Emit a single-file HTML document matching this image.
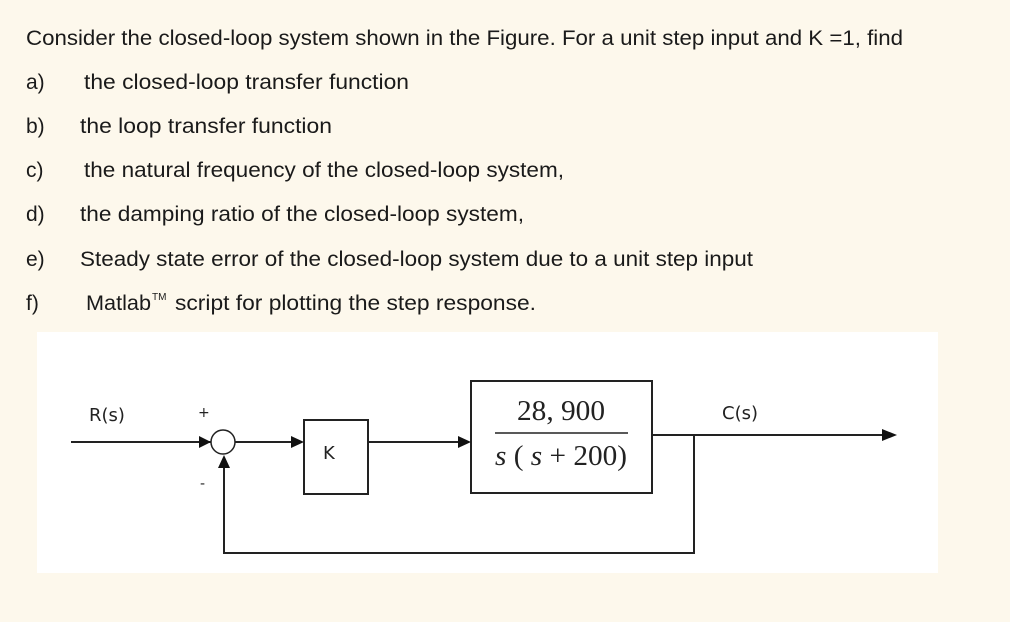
<!DOCTYPE html>
<html><head><style>
html,body{margin:0;padding:0;background:#fdf8ec;}
body{width:1010px;height:622px;overflow:hidden;position:relative;}
svg{position:absolute;left:0;top:0;}
</style></head><body>
<svg width="1010" height="622" xmlns="http://www.w3.org/2000/svg">
<g font-family="Liberation Sans, sans-serif" font-size="21" fill="#1a1a1a">
<text x="26" y="45" textLength="877" lengthAdjust="spacingAndGlyphs">Consider the closed-loop system shown in the Figure. For a unit step input and K =1, find</text>
<text x="26" y="89">a)</text><text x="84" y="89" textLength="325" lengthAdjust="spacingAndGlyphs">the closed-loop transfer function</text>
<text x="26" y="133">b)</text><text x="80" y="133" textLength="252" lengthAdjust="spacingAndGlyphs">the loop transfer function</text>
<text x="26" y="177">c)</text><text x="84" y="177" textLength="480" lengthAdjust="spacingAndGlyphs">the natural frequency of the closed-loop system,</text>
<text x="26" y="221">d)</text><text x="80" y="221" textLength="444" lengthAdjust="spacingAndGlyphs">the damping ratio of the closed-loop system,</text>
<text x="26" y="266">e)</text><text x="80" y="266" textLength="673" lengthAdjust="spacingAndGlyphs">Steady state error of the closed-loop system due to a unit step input</text>
<text x="26" y="310">f)</text>
<text x="86" y="310" textLength="65" lengthAdjust="spacingAndGlyphs">Matlab</text>
<text x="152" y="300" font-size="10">TM</text>
<text x="175" y="310" textLength="361" lengthAdjust="spacingAndGlyphs">script for plotting the step response.</text>
</g>
<rect x="37" y="332" width="901" height="241" fill="#fff"/>
<g stroke="#222" stroke-width="2" fill="none">
<line x1="71" y1="442" x2="211" y2="442"/>
<circle cx="223" cy="442" r="12" stroke-width="1.5"/>
<line x1="235" y1="442" x2="300" y2="442"/>
<rect x="304" y="420" width="64" height="74"/>
<line x1="368" y1="442" x2="466" y2="442"/>
<rect x="471" y="381" width="181" height="112"/>
<line x1="652" y1="435" x2="885" y2="435"/>
<polyline points="694,435 694,553 224,553 224,466"/>
<line x1="495" y1="433" x2="628" y2="433" stroke-width="1.5"/>
</g>
<g fill="#111">
<polygon points="199,436 211,442 199,448"/>
<polygon points="291,436 304,442 291,448"/>
<polygon points="458,436 471,442 458,448"/>
<polygon points="882,429 897,435 882,441"/>
<polygon points="218,468 224,455 230,468"/>
</g>
<g font-family="DejaVu Sans, sans-serif" font-size="18" fill="#222">
<text x="89" y="421">R(s)</text>
<text x="198" y="417" font-size="14">+</text>
<text x="200" y="488" font-size="14">-</text>
<text x="323" y="459">K</text>
<text x="722" y="419">C(s)</text>
</g>
<g font-family="Liberation Serif, serif" font-size="29" fill="#222">
<text x="517" y="420" textLength="88" lengthAdjust="spacingAndGlyphs">28, 900</text>
<text x="495" y="465" textLength="132" lengthAdjust="spacingAndGlyphs"><tspan font-style="italic">s</tspan> ( <tspan font-style="italic">s</tspan> + 200)</text>
</g>
</svg>
</body></html>
